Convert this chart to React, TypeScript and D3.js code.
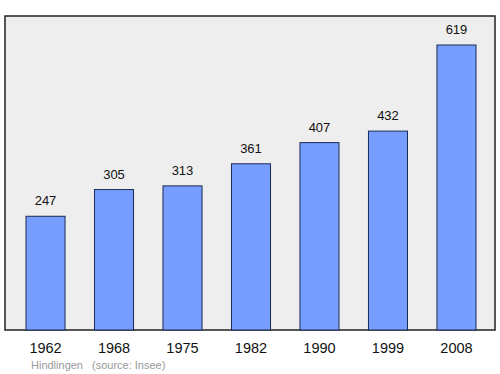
import * as d3 from "d3";
import { useEffect, useRef } from "react";

const years = ["1962", "1968", "1975", "1982", "1990", "1999", "2008"];
const population = [247, 305, 313, 361, 407, 432, 619];

const App = () => {
    const ref = useRef<SVGSVGElement>(null);

    const width = 500;
    const height = 374;
    const frame = { left: 5, top: 16, right: 495, bottom: 330 };
    const font = "'Liberation Sans', Arial, sans-serif";

    useEffect(() => {
        const svg = d3.select(ref.current);
        svg.selectAll("*").remove();

        // cadre gris
        svg.append("rect")
            .attr("x", frame.left)
            .attr("y", frame.top)
            .attr("width", frame.right - frame.left)
            .attr("height", frame.bottom - frame.top)
            .attr("fill", "#eeeeee")
            .attr("stroke", "#222")
            .attr("stroke-width", 1.5);

        const x = d3.scaleBand()
            .domain(years)
            .range([12.3, 489.7])
            .paddingInner(0.43)
            .paddingOuter(0.2);

        const y = d3.scaleLinear()
            .domain([0, 619])
            .range([frame.bottom, 45]);

        // barres
        svg.selectAll(".bar")
            .data(population)
            .enter()
            .append("rect")
            .attr("x", (d, i) => x(years[i])!)
            .attr("y", d => y(d))
            .attr("width", x.bandwidth())
            .attr("height", d => frame.bottom - y(d))
            .attr("fill", "#779eff")
            .attr("stroke", "#1a2a55")
            .attr("stroke-width", 1);

        // valeurs
        svg.selectAll(".val")
            .data(population)
            .enter()
            .append("text")
            .attr("x", (d, i) => x(years[i])! + x.bandwidth() / 2)
            .attr("y", d => y(d) - 11)
            .attr("text-anchor", "middle")
            .style("font-family", font)
            .style("font-size", "13px")
            .attr("fill", "#111")
            .text(d => d);

        // axe x
        svg.selectAll(".year")
            .data(years)
            .enter()
            .append("text")
            .attr("x", d => x(d)! + x.bandwidth() / 2)
            .attr("y", 353)
            .attr("text-anchor", "middle")
            .style("font-family", font)
            .style("font-size", "14.5px")
            .attr("fill", "#111")
            .text(d => d);

        svg.append("text")
            .attr("x", 31)
            .attr("y", 369)
            .style("font-family", font)
            .style("font-size", "11px")
            .attr("fill", "#999")
            .text("Hindlingen");

        svg.append("text")
            .attr("x", 92)
            .attr("y", 369)
            .style("font-family", font)
            .style("font-size", "11px")
            .attr("fill", "#999")
            .text("(source: Insee)");
    }, []);

    return (
        <svg ref={ref} width={width} height={height}
            style={{ position: "absolute", left: 0, top: 0, background: "#fff" }}></svg>
    );
};

export default App;
